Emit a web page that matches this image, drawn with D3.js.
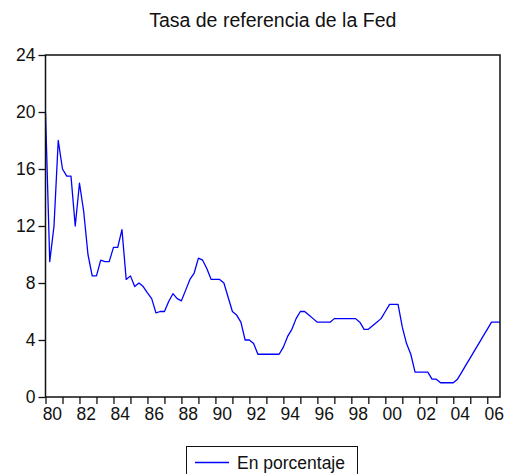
<!DOCTYPE html>
<html>
<head>
<meta charset="utf-8">
<script src="https://cdn.jsdelivr.net/npm/d3@7"></script>
<style>
  body { margin: 0; background: #fff; }
  svg text { font-family: "Liberation Sans", Arial, sans-serif; fill: #111; }
</style>
</head>
<body>
<div id="chart"></div>
<script>
// quarterly data, 1980Q1 .. 2006Q4
var startYear = 1980;
var rate = [20, 9.5, 12, 18, 16, 15.5, 15.5, 12,
  15, 13, 10, 8.5, 8.5, 9.6, 9.5, 9.5,
  10.5, 10.5, 11.75, 8.25, 8.5, 7.75, 8, 7.75,
  7.3, 6.9, 5.9, 6, 6, 6.7, 7.25, 6.9,
  6.75, 7.5, 8.25, 8.7, 9.75, 9.6, 9, 8.25,
  8.25, 8.25, 8, 7, 6, 5.75, 5.25, 4,
  4, 3.75, 3, 3, 3, 3, 3, 3,
  3.5, 4.25, 4.75, 5.5, 6, 6, 5.75, 5.5,
  5.25, 5.25, 5.25, 5.25, 5.5, 5.5, 5.5, 5.5,
  5.5, 5.5, 5.25, 4.75, 4.75, 5, 5.25, 5.5,
  6, 6.5, 6.5, 6.5, 4.9, 3.75, 3, 1.75,
  1.75, 1.75, 1.75, 1.25, 1.25, 1, 1, 1,
  1, 1.25, 1.75, 2.25, 2.75, 3.25, 3.75, 4.25,
  4.75, 5.25, 5.25, 5.25];
var yTicks = [0, 4, 8, 12, 16, 20, 24];
var xLabels = ["80","82","84","86","88","90","92","94","96","98","00","02","04","06"];
var title = "Tasa de referencia de la Fed";
var seriesName = "En porcentaje";

var W = 506, H = 474;
var plotL = 45.5, plotR = 500, plotT = 55, plotB = 397;

var svg = d3.select("#chart").append("svg")
    .attr("width", W)
    .attr("height", H);

var x = d3.scaleLinear().domain([0, rate.length - 1]).range([plotL, plotR]);
var y = d3.scaleLinear().domain([0, 24]).range([plotB, plotT]);

// title
svg.append("text")
    .attr("x", (plotL + plotR) / 2)
    .attr("y", 27)
    .attr("text-anchor", "middle")
    .style("font-size", "19.5px")
    .text(title);

// y axis
var yAxis = svg.append("g")
    .attr("transform", "translate(" + plotL + ",0)")
    .call(d3.axisLeft(y).tickValues(yTicks).tickSize(7).tickPadding(3));
yAxis.select(".domain").remove();
yAxis.selectAll("line").attr("stroke", "#111").attr("stroke-width", 1.3);
yAxis.selectAll("text").style("font-size", "17.5px").attr("fill", "#111");

// x axis ticks, one per year
var yearIdx = d3.range(0, rate.length, 4);
var xAxis = svg.append("g")
    .attr("transform", "translate(0," + plotB + ")")
    .call(d3.axisBottom(x).tickValues(yearIdx).tickSize(7).tickFormat(""));
xAxis.select(".domain").remove();
xAxis.selectAll("line").attr("stroke", "#111").attr("stroke-width", 1.3);

// x labels, centred on the year's quarters
var labelIdx = xLabels.map(function(d, i) { return i * 8 + 1.5; });
var xLab = svg.append("g")
    .attr("transform", "translate(0," + plotB + ")")
    .call(d3.axisBottom(x).tickValues(labelIdx).tickSize(0).tickPadding(11)
      .tickFormat(function(d, i) { return xLabels[i]; }));
xLab.select(".domain").remove();
xLab.selectAll("text").style("font-size", "17.5px").attr("fill", "#111");

// line
var line = d3.line()
    .x(function(d, i) { return x(i); })
    .y(function(d) { return y(d); });

svg.append("path")
    .datum(rate)
    .attr("fill", "none")
    .attr("stroke", "#0000ff")
    .attr("stroke-width", 1.3)
    .attr("stroke-linejoin", "round")
    .attr("d", line);

// frame
svg.append("rect")
    .attr("x", plotL)
    .attr("y", plotT)
    .attr("width", plotR - plotL)
    .attr("height", plotB - plotT)
    .attr("fill", "none")
    .attr("stroke", "#111")
    .attr("stroke-width", 1.5);

// legend
var lg = svg.append("g").attr("class", "legend");
lg.append("rect")
    .attr("x", 186.5)
    .attr("y", 446.5)
    .attr("width", 171)
    .attr("height", 40)
    .attr("fill", "#fff")
    .attr("stroke", "#111")
    .attr("stroke-width", 1);
lg.append("line")
    .attr("x1", 195).attr("x2", 229)
    .attr("y1", 462.5).attr("y2", 462.5)
    .attr("stroke", "#0000ff")
    .attr("stroke-width", 1.3);
lg.append("text")
    .attr("x", 237)
    .attr("y", 468.5)
    .style("font-size", "17.5px")
    .text(seriesName);
</script>
</body>
</html>
